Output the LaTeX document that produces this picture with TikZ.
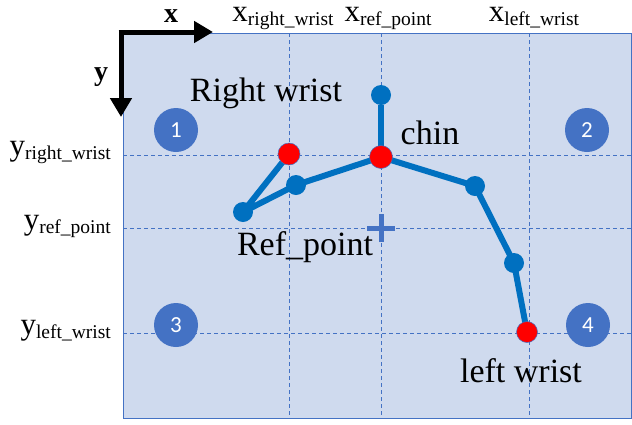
\documentclass[tikz,border=0pt]{standalone}
\usepackage{fontspec}
\setmainfont{Liberation Serif}
\newfontfamily\numfont{Carlito}
\usetikzlibrary{arrows.meta,positioning}
\definecolor{panelblue}{HTML}{CFDAEE}
\definecolor{gridblue}{HTML}{4472C4}
\definecolor{bone}{HTML}{0070C0}
\newcommand{\sublab}[2]{{\fontsize{31}{33}\selectfont #1}\raisebox{-4pt}{\fontsize{19.5}{22}\selectfont #2}}

\begin{document}
\begin{tikzpicture}[x=1pt, y=-1pt,
    joint/.style={circle, fill=bone, inner sep=0pt, minimum size=20pt},
    keypt/.style={circle, fill=red, draw=gridblue, line width=0.5pt, inner sep=0pt, minimum size=23pt},
    quad/.style={circle, fill=gridblue, text=white, inner sep=0pt, minimum size=44pt, font=\numfont\fontsize{23}{25}\selectfont},
    tag/.style={inner sep=0pt, font=\fontsize{34}{36}\selectfont},
    grid/.style={gridblue, dashed, line width=0.8pt, dash pattern=on 4pt off 3pt}]
    \useasboundingbox (0,0) rectangle (632,424);
    % panel
    \draw[gridblue, line width=1pt, fill=panelblue] (123,33) rectangle (631.5,418);
    % guide lines
    \foreach \n/\x in {rw/289, rp/381, lw/529} {
        \coordinate (t\n) at (\x,33);
        \coordinate (b\n) at (\x,418);
        \draw[grid] (t\n) -- (b\n);
    }
    \foreach \n/\y in {rw/155, rp/228, lw/333} {
        \coordinate (l\n) at (123,\y);
        \coordinate (r\n) at (631,\y);
        \draw[grid] (l\n) -- (r\n);
    }
    % axes
    \coordinate (o) at (121,32);
    \coordinate (xend) at (213,32);
    \coordinate (yend) at (121,117);
    \draw[line width=5pt, -{Triangle[length=19pt,width=21pt]}] ([xshift=-2.5pt]o) -- (xend);
    \draw[line width=5pt, -{Triangle[length=19pt,width=21pt]}] (o) -- (yend);
    \node[inner sep=0pt, font=\bfseries\fontsize{28}{30}\selectfont] (xlab) at (171,16) {x};
    \node[inner sep=0pt, font=\bfseries\fontsize{28}{30}\selectfont] (ylab) at (101,77) {y};
    % axis labels
    \node[inner sep=0pt, anchor=base] (xrw) at (283,21) {\sublab{x}{right\_wrist}};
    \node[inner sep=0pt, anchor=base] (xrp) at (388,21) {\sublab{x}{ref\_point}};
    \node[inner sep=0pt, anchor=base] (xlw) at (534,21) {\sublab{x}{left\_wrist}};
    \node[inner sep=0pt, anchor=base east] (yrw) at (111,155) {\sublab{y}{right\_wrist}};
    \node[inner sep=0pt, anchor=base east] (yrp) at (111,229) {\sublab{y}{ref\_point}};
    \node[inner sep=0pt, anchor=base east] (ylw) at (111,334) {\sublab{y}{left\_wrist}};
    % quadrants
    \foreach \i/\x/\y in {1/176/130, 2/587/130, 3/176/325, 4/588/325} {
        \node[quad] (q\i) at (\x,\y) {\i};
    }
    % reference point
    \coordinate (ref) at (381,228);
    \draw[gridblue, line width=5pt] ([xshift=-14pt]ref) -- ([xshift=14pt]ref);
    \draw[gridblue, line width=5pt] ([yshift=-14pt]ref) -- ([yshift=14pt]ref);
    % skeleton
    \node[joint] (head) at (381,95) {};
    \node[joint] (rsh) at (296,185) {};
    \node[joint] (rel) at (243,212) {};
    \node[joint] (lsh) at (475,186) {};
    \node[joint] (lel) at (514,263) {};
    \draw[bone, line width=6pt] (head) -- (381,157);
    \draw[bone, line width=6pt, line join=round] (381,157) -- (rsh.center) -- (rel.center) -- (289,154);
    \draw[bone, line width=6pt, line join=round] (381,157) -- (lsh.center) -- (lel.center) -- (527,332);
    \node[keypt] (chin) at (381,157) {};
    \node[keypt, minimum size=22pt] (rwr) at (289,154) {};
    \node[keypt, minimum size=21pt] (lwr) at (527,332) {};
    % labels
    \node[tag] (rwlab) at (266,93) {Right wrist};
    \node[tag] (chinlab) at (430,133) {chin};
    \node[tag] (reflab) at (305,247) {Ref\_point};
    \node[tag] (lwlab) at (521,371) {left wrist};
\end{tikzpicture}
\end{document}
